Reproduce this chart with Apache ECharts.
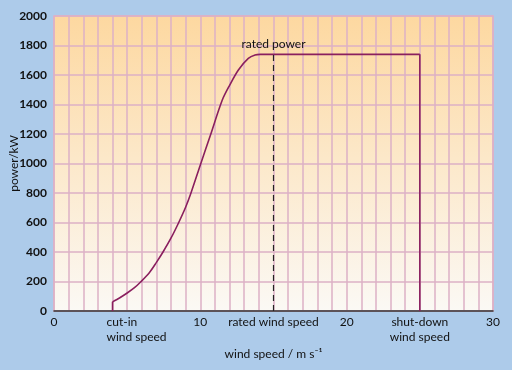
<!DOCTYPE html>
<html><head><meta charset="utf-8">
<script src="https://cdn.jsdelivr.net/npm/echarts@6/dist/echarts.min.js"></script>
<style>html,body{margin:0;padding:0;background:#adcbea;}#c{width:512px;height:370px;}</style>
</head><body><div id="c"></div>
<script>
// power curve: wind speed (m/s) and power (kW)
const windSpeed = [4, 4.5, 5, 5.5, 5.9, 6.5, 7, 7.45, 8, 8.5, 9, 9.36, 10, 10.7, 11.5, 12, 12.6, 13.28, 13.74, 14.1, 25];
const power     = [62, 90, 122, 158, 195, 258, 330, 400, 495, 595, 705, 800, 990, 1195, 1430, 1530, 1634, 1713, 1736, 1740, 1740];
const cutInSpeed = 4, cutInPower = [0, 62];
const shutDownSpeed = 25, shutDownPower = [1740, 0];
const ratedSpeed = 15, ratedPower = 1740;
const xTickLabels = {0:'0', 4:'cut-in\nwind speed', 10:'10', 15:'rated wind speed', 20:'20', 25:'shut-down\nwind speed', 30:'30'};
const yTicks = [0,200,400,600,800,1000,1200,1400,1600,1800,2000];

const FONT = 'Lato';
const LINE = '#8a1f5e';
const chart = echarts.init(document.getElementById('c'), null, {renderer:'canvas'});
chart.setOption({
  backgroundColor: '#adcbea',
  animation: false,
  grid: {left: 54, right: 19, top: 16, bottom: 59, show: true, outerBoundsMode: 'none', containLabel: false,
    backgroundColor: new echarts.graphic.LinearGradient(0,0,0,1,[{offset:0,color:'#fdd8a0'},{offset:1,color:'#fbf9f5'}]),
    borderColor: '#e0b2c6', borderWidth: 1.5},
  xAxis: {type:'value', min:0, max:30, interval:1,
    name: 'wind speed / m s⁻¹', nameLocation:'middle', nameGap: 37, nameMoveOverlap: false,
    nameTextStyle:{fontFamily:FONT, fontSize:12, color:'#111'},
    axisLine:{show:true, onZero:false, lineStyle:{color:'#333', width:1.5}},
    axisTick:{show:false},
    splitLine:{show:true, lineStyle:{color:'#dcb0c6', width:1.5}},
    axisLabel:{fontFamily:FONT, fontSize:12, color:'#111', margin:4, lineHeight:15, interval:0,
      formatter: v => {
        const t = xTickLabels[v];
        if (t === undefined) return '';
        if (v === 4) return '{l|cut-in}\n{l|wind speed}';
        return t;
      },
      rich:{l:{fontFamily:FONT, fontSize:12, color:'#111', align:'left', padding:[0,0,0,48], lineHeight:15}}
    }
  },
  yAxis: {type:'value', min:0, max:2000, interval:200,
    name:'power/kW', nameLocation:'middle', nameGap:34, nameRotate:90, nameMoveOverlap: false,
    nameTextStyle:{fontFamily:FONT, fontSize:12, color:'#111'},
    axisLine:{show:false}, axisTick:{show:false},
    splitLine:{show:true, lineStyle:{color:'#dcb0c6', width:1.5}},
    axisLabel:{fontFamily:FONT, fontSize:12, fontWeight:'bold', color:'#111', margin:7,
      formatter: v => yTicks.includes(v) ? String(v) : ''}
  },
  series: [{
    type:'line', data: windSpeed.map((x,i)=>[x, power[i]]),
    showSymbol:false, smooth:0.3,
    lineStyle:{color:LINE, width:1.6},
    markLine:{silent:true, symbol:'none',
      lineStyle:{color:'#222', type:[6,4], width:1.2},
      label:{show:true, position:'end', formatter:'rated power', fontFamily:FONT, fontSize:12, color:'#111', distance:4},
      data:[[{coord:[ratedSpeed,0]},{coord:[ratedSpeed,ratedPower]}]]
    }
  }, {
    type:'line', data: cutInPower.map(p=>[cutInSpeed,p]), showSymbol:false,
    lineStyle:{color:LINE, width:1.6}
  }, {
    type:'line', data: shutDownPower.map(p=>[shutDownSpeed,p]), showSymbol:false,
    lineStyle:{color:LINE, width:1.6}
  }]
});
</script></body></html>
